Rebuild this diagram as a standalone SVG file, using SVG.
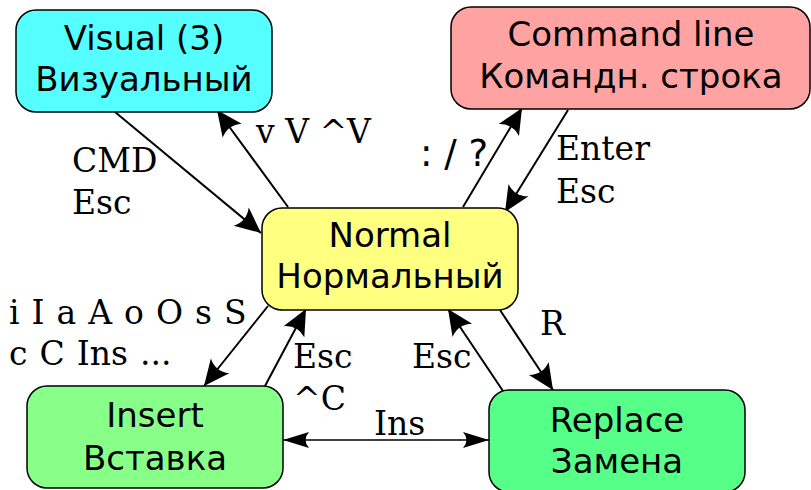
<svg xmlns="http://www.w3.org/2000/svg" width="811" height="490" viewBox="0 0 811 490">
<style>
.node{stroke:#000;stroke-width:1.5}
.nt{font-family:"DejaVu Sans",sans-serif;font-size:34px;text-anchor:middle;fill:#000}
.lb{font-family:"DejaVu Serif",serif;font-size:33px;fill:#000}
.ls{font-family:"DejaVu Sans",sans-serif;font-size:37px;fill:#000}
.c{stroke:#000;stroke-width:2;fill:none;marker-end:url(#big)}
.ci{stroke:#000;stroke-width:1.5;fill:none;marker-start:url(#sml);marker-end:url(#sml)}
</style>
<defs>
<marker id="big" markerUnits="userSpaceOnUse" orient="auto" markerWidth="30" markerHeight="30" viewBox="-26 -13 28 26" refX="0" refY="0" overflow="visible">
<path d="M0,0 L-24,-11 Q-17,0 -24,11 Z" fill="#000"/>
</marker>
<marker id="sml" markerUnits="userSpaceOnUse" orient="auto-start-reverse" markerWidth="30" markerHeight="30" viewBox="-28 -10 30 20" refX="0" refY="0" overflow="visible">
<path d="M0,0 L-26,-8 Q-19,0 -26,8 Z" fill="#000"/>
</marker>
</defs>
<g id="connectors">
<line class="c" x1="115" y1="112" x2="261" y2="233"/>
<line class="c" x1="288" y1="207" x2="217" y2="110"/>
<line class="c" x1="463" y1="207" x2="522" y2="108"/>
<line class="c" x1="568" y1="110" x2="505" y2="212"/>
<line class="c" x1="268" y1="306" x2="204" y2="386"/>
<line class="c" x1="265" y1="386" x2="306" y2="309"/>
<line class="c" x1="500" y1="310" x2="553" y2="390"/>
<line class="c" x1="503" y1="391" x2="448" y2="309"/>
<line class="ci" x1="283" y1="440" x2="489" y2="440"/>
<text class="lb" x="72" y="172">CMD</text>
<text class="lb" x="72" y="214">Esc</text>
<text class="lb" x="256" y="143">v V ^V</text>
<text class="ls" x="420" y="166">: / ?</text>
<text class="lb" x="556" y="160">Enter</text>
<text class="lb" x="556" y="203">Esc</text>
<text class="lb" x="9" y="324" word-spacing="1.5">i I a A o O s S</text>
<text class="lb" x="9" y="365" word-spacing="1.5">c C Ins ...</text>
<text class="lb" x="293" y="368">Esc</text>
<text class="lb" x="293" y="410">^C</text>
<text class="lb" x="374" y="435">Ins</text>
<text class="lb" x="412" y="368">Esc</text>
<text class="lb" x="540" y="335">R</text>
</g>
<g id="visual">
<rect class="node" x="16" y="10" width="256" height="102" rx="20" fill="#55ffff"/>
<text class="nt" x="144" y="50">Visual (3)</text>
<text class="nt" x="144" y="91">Визуальный</text>
</g>
<g id="command">
<rect class="node" x="451" y="7" width="359" height="102" rx="20" fill="#ffa2a2"/>
<text class="nt" x="631" y="46">Command line</text>
<text class="nt" x="631" y="88">Командн. строка</text>
</g>
<g id="normal">
<rect class="node" x="262" y="208" width="256" height="102" rx="20" fill="#ffff80"/>
<text class="nt" x="390" y="247">Normal</text>
<text class="nt" x="390" y="288">Нормальный</text>
</g>
<g id="insert">
<rect class="node" x="27" y="386" width="256" height="102" rx="20" fill="#88ff88"/>
<text class="nt" x="155" y="427">Insert</text>
<text class="nt" x="155" y="470">Вставка</text>
</g>
<g id="replace">
<rect class="node" x="489" y="390" width="256" height="102" rx="20" fill="#55ff88"/>
<text class="nt" x="617" y="432">Replace</text>
<text class="nt" x="617" y="473">Замена</text>
</g>
</svg>
